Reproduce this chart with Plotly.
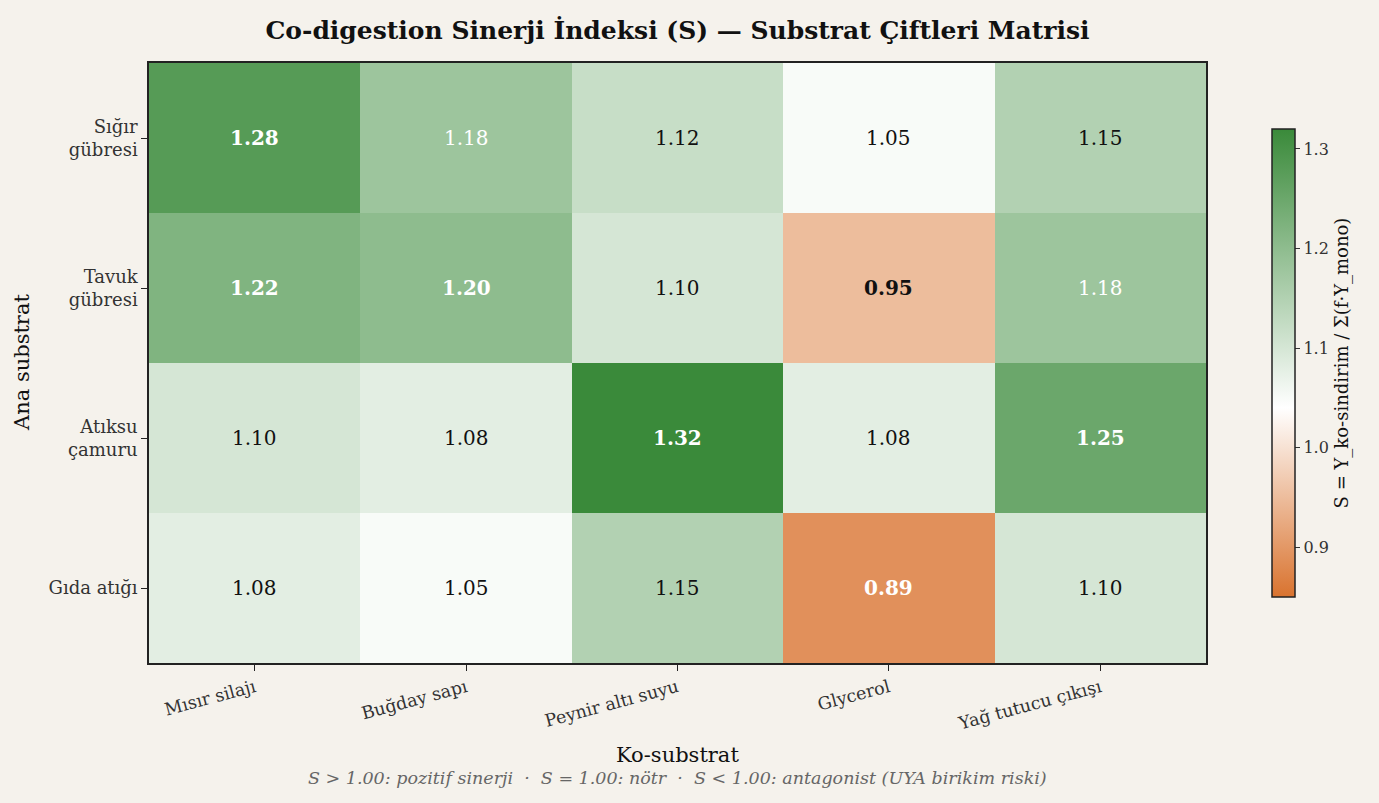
import plotly.graph_objects as go

ana_substrat = ["Sığır<br>gübresi", "Tavuk<br>gübresi", "Atıksu<br>çamuru", "Gıda atığı"]
ko_substrat = ["Mısır silajı", "Buğday sapı", "Peynir altı suyu", "Glycerol", "Yağ tutucu çıkışı"]
sinerji = [
    [1.28, 1.18, 1.12, 1.05, 1.15],
    [1.22, 1.20, 1.10, 0.95, 1.18],
    [1.10, 1.08, 1.32, 1.08, 1.25],
    [1.08, 1.05, 1.15, 0.89, 1.10],
]
cbar_ticks = [0.9, 1.0, 1.1, 1.2, 1.3]

ZMIN, ZMAX, ZWHITE = 0.85, 1.32, 1.04
wpos = (ZWHITE - ZMIN) / (ZMAX - ZMIN)
colorscale = [
    [0.0, "#d9732f"],
    [wpos, "#ffffff"],
    [1.0, "#3a8a3a"],
]

FONT = "DejaVu Serif"
BG = "#f5f2ec"
W, H = 1379, 803
L, R, T, B = 149, 173, 63, 140
PW = W - L - R

fig = go.Figure()
fig.add_trace(go.Heatmap(
    z=sinerji, x=ko_substrat, y=ana_substrat,
    zmin=ZMIN, zmax=ZMAX, colorscale=colorscale,
    xgap=0, ygap=0, hoverinfo="skip",
    colorbar=dict(
        x=1 + (1272 - (L + PW)) / PW, xanchor="left", xpad=0,
        thickness=23, thicknessmode="pixels",
        len=468, lenmode="pixels", y=0.5, yanchor="middle", ypad=0,
        outlinecolor="#222222", outlinewidth=1.5,
        tickvals=cbar_ticks, ticktext=[f"{v:.1f}" for v in cbar_ticks],
        ticks="outside", ticklen=5, tickcolor="#333333",
        tickfont=dict(family=FONT, size=16, color="#333333"),
        title=dict(text="S = Y_ko-sindirim / Σ(f·Y_mono)", side="right",
                   font=dict(family=FONT, size=18, color="#111111")),
        bgcolor="rgba(0,0,0,0)",
    ),
))

annotations = []
for i, row in enumerate(sinerji):
    for j, s in enumerate(row):
        bold = s >= 1.20 or s < 1.0
        white = s >= 1.18 or s < 0.92
        txt = f"{s:.2f}"
        if bold:
            txt = f"<b>{txt}</b>"
        annotations.append(dict(
            x=ko_substrat[j], y=ana_substrat[i], xref="x", yref="y",
            text=txt, showarrow=False,
            font=dict(family=FONT, size=20, color="#ffffff" if white else "#111111"),
        ))

annotations.append(dict(
    text="Ko-substrat", xref="paper", yref="paper", x=0.5, y=0, yshift=-(755 - (H - B)),
    xanchor="center", yanchor="middle", showarrow=False,
    font=dict(family=FONT, size=21, color="#111111"),
))
annotations.append(dict(
    text="Ana substrat", xref="paper", yref="paper", x=0, y=0.5, xshift=22 - L,
    xanchor="center", yanchor="middle", textangle=-90, showarrow=False,
    font=dict(family=FONT, size=21, color="#111111"),
))
annotations.append(dict(
    text="<i>S > 1.00: pozitif sinerji  ·  S = 1.00: nötr  ·  S < 1.00: antagonist (UYA birikim riski)</i>",
    xref="paper", yref="paper", x=0.5, y=0, yshift=-(778 - (H - B)), xanchor="center", yanchor="middle",
    showarrow=False, font=dict(family=FONT, size=17.5, color="#666666"),
))

fig.update_layout(
    width=W, height=H,
    paper_bgcolor=BG, plot_bgcolor=BG,
    margin=dict(l=L, r=R, t=T, b=B),
    title=dict(text="<b>Co-digestion Sinerji İndeksi (S) — Substrat Çiftleri Matrisi</b>",
               x=0.5, xref="paper", xanchor="center", y=1 - 30 / H, yanchor="middle",
               font=dict(family=FONT, size=25, color="#111111")),
    annotations=annotations,
    xaxis=dict(
        tickangle=-15, ticks="outside", ticklen=6, tickcolor="#222222",
        tickfont=dict(family=FONT, size=17.5, color="#333333"),
        showline=True, linecolor="#222222", linewidth=1.5, mirror=True,
        showgrid=False, zeroline=False,
    ),
    yaxis=dict(
        autorange="reversed", ticks="outside", ticklen=6, tickcolor="#222222",
        tickfont=dict(family=FONT, size=18, color="#333333"),
        showline=True, linecolor="#222222", linewidth=1.5, mirror=True,
        showgrid=False, zeroline=False,
    ),
)

fig.write_html("out.html", config={"displayModeBar": False},
               post_script="document.body.style.margin='0px';")
